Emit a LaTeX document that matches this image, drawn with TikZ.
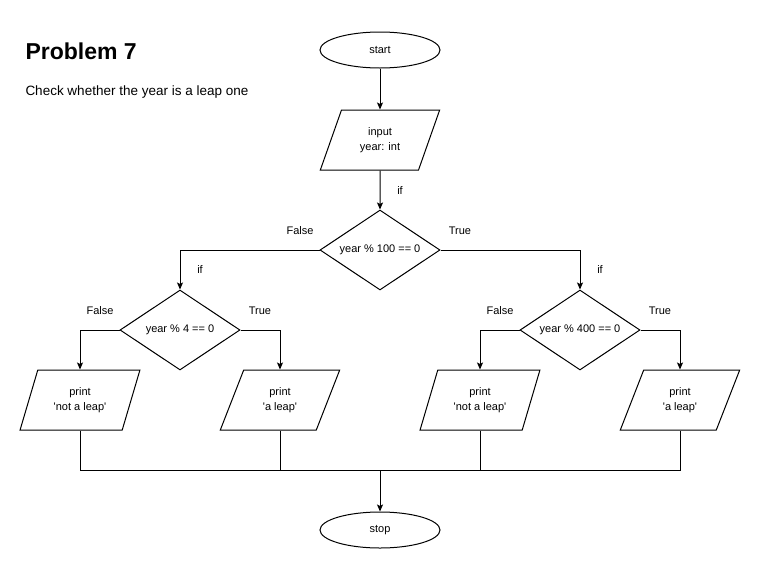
\documentclass[tikz,border=0pt]{standalone}
\usepackage{fontspec}
\newfontfamily\chartfont{Liberation Sans}
\usetikzlibrary{calc,shapes.geometric,arrows.meta}

\begin{document}
\begin{tikzpicture}[x=1pt, y=-1pt, line width=1pt,
		font=\chartfont\fontsize{11}{14.5}\selectfont,
		terminal/.style={draw, ellipse, minimum width=120pt, minimum height=36pt, inner sep=0pt},
		iobox/.style={draw, trapezium, trapezium left angle=66, trapezium right angle=114, trapezium stretches=true, minimum width=120pt, minimum height=60pt, inner sep=0pt, align=center},
		decision/.style={draw, diamond, shape aspect=1.5, minimum width=120pt, minimum height=80pt, inner sep=0pt},
		flow/.style={-{Stealth[length=7pt, width=6pt, inset=1.5pt]}},
		tag/.style={inner sep=0pt}]
			%%%%% START %%%%%
			
			\fill[white] (0, 0) rectangle (761, 571);
			\useasboundingbox (0, 0) rectangle (761, 571);
			
			\node[anchor=base west, inner sep=0pt, font=\chartfont\bfseries\fontsize{23}{27}\selectfont] (title) at (25, 59) {Problem 7};
			\node[anchor=base west, inner sep=0pt, font=\chartfont\fontsize{13.5}{16}\selectfont] (task) at (25, 95) {Check whether the year is a leap one};
			
			\node[terminal] (start) at (380, 50) {start};
			\node[iobox] (input) at (380, 140) {input\\year: int};
			\node[decision] (cent) at (380, 250) {year \% 100 == 0};
			
			\node[decision] (four) at (180, 330) {year \% 4 == 0};
			\node[decision] (fourh) at (580, 330) {year \% 400 == 0};
			
			\node[iobox] (noA) at (80, 400) {print\\'not a leap'};
			\node[iobox] (yesA) at (280, 400) {print\\'a leap'};
			\node[iobox] (noB) at (480, 400) {print\\'not a leap'};
			\node[iobox] (yesB) at (680, 400) {print\\'a leap'};
			
			\coordinate (merge) at (380, 470);
			\node[terminal] (stop) at (380, 530) {stop};
			
			\draw[flow] (start) -- (input);
			\draw[flow] (input) -- (cent);
			\draw[flow] (cent.west) -| (four);
			\draw[flow] (cent.east) -| (fourh);
			\draw[flow] (four.west) -| (noA);
			\draw[flow] (four.east) -| (yesA);
			\draw[flow] (fourh.west) -| (noB);
			\draw[flow] (fourh.east) -| (yesB);
			
			\draw (noA) |- (merge -| yesB) -- (yesB);
			\draw (yesA) -- (yesA |- merge);
			\draw (noB) -- (noB |- merge);
			\draw[flow] (merge) -- (stop);
			
			\node[tag] (ifA) at (400, 191) {if};
			\node[tag] (ifB) at (200, 270) {if};
			\node[tag] (ifC) at (600, 270) {if};
			\node[tag] (noC) at (300, 231) {False};
			\node[tag] (yesC) at (460, 231) {True};
			\node[tag] (noD) at (100, 311) {False};
			\node[tag] (yesD) at (260, 311) {True};
			\node[tag] (noE) at (500, 311) {False};
			\node[tag] (yesE) at (660, 311) {True};
			
			%%%%% END %%%%%
\end{tikzpicture}
\end{document}
